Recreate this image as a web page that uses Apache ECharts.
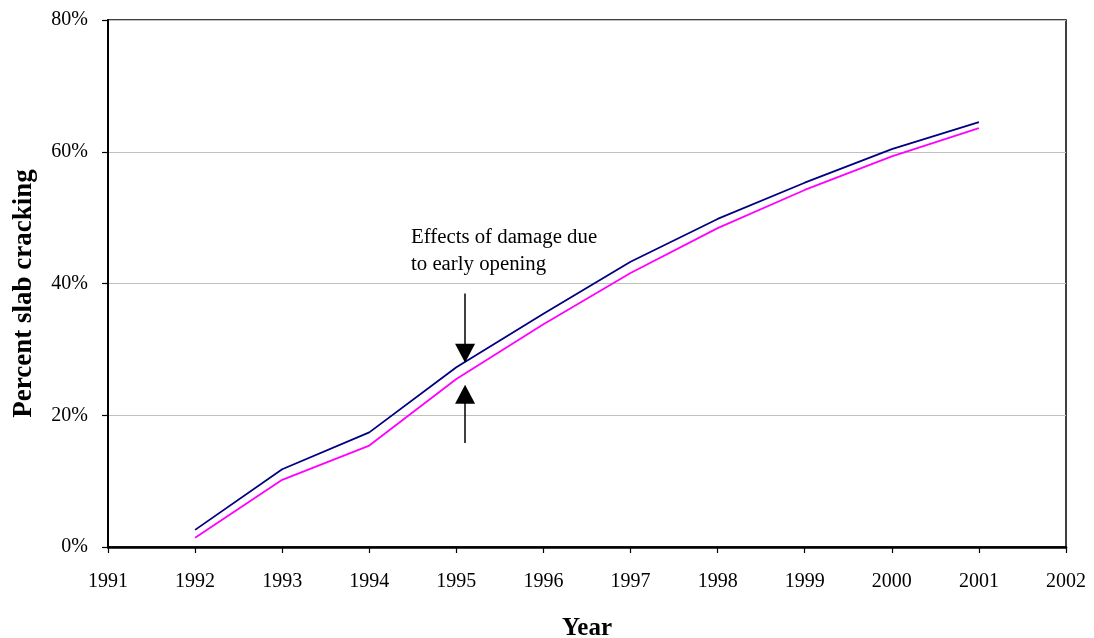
<!DOCTYPE html>
<html>
<head>
<meta charset="utf-8">
<script src="https://cdn.jsdelivr.net/npm/echarts@6/dist/echarts.min.js"></script>
<style>html,body{margin:0;padding:0;background:#fff}#c{width:1094px;height:638px}</style>
</head>
<body>
<div id="c"></div>
<script>
var years = [1992, 1993, 1994, 1995, 1996, 1997, 1998, 1999, 2000, 2001];
var seriesA = [2.6, 11.8, 17.4, 27.3, 35.4, 43.3, 49.8, 55.3, 60.4, 64.5];
var seriesB = [1.4, 10.2, 15.4, 25.5, 33.8, 41.6, 48.4, 54.2, 59.3, 63.6];
var yTicks = [0, 20, 40, 60, 80];
var annotationText = 'Effects of damage due\nto early opening';
var arrowX = 1995.1;
var arrowDown = [38.5, 29.4];
var arrowUp = [15.8, 23.2];

var font = '"Liberation Serif", "Times New Roman", serif';
function pairs(xs, ys) { return xs.map(function (x, i) { return [x, ys[i]]; }); }

var chart = echarts.init(document.getElementById('c'), null, { renderer: 'canvas' });
chart.setOption({
  animation: false,
  backgroundColor: '#fff',
  textStyle: { fontFamily: font },
  grid: { left: 108, right: 28, top: 20, bottom: 91, containLabel: false, outerBoundsMode: 'none',
          show: true, borderColor: '#000', borderWidth: 1.5, backgroundColor: 'transparent' },
  xAxis: {
    type: 'value', min: 1991, max: 2002, interval: 1,
    name: 'Year', nameLocation: 'middle', nameGap: 69,
    nameTextStyle: { fontFamily: font, fontSize: 25, fontWeight: 'bold', color: '#000' },
    axisLine: { lineStyle: { color: '#000', width: 2.5 } },
    axisTick: { show: true, inside: false, length: 6, lineStyle: { color: '#000', width: 1.2 } },
    axisLabel: { fontFamily: font, fontSize: 20, color: '#000', margin: 25, formatter: function (v) { return String(v); } },
    splitLine: { show: false }
  },
  yAxis: {
    type: 'value', min: 0, max: 80, interval: 20,
    name: 'Percent slab cracking', nameLocation: 'middle', nameGap: 70, nameRotate: 90,
    nameTextStyle: { fontFamily: font, fontSize: 27, fontWeight: 'bold', color: '#000', padding: [0, 20, 0, 0] },
    axisLine: { show: true, lineStyle: { color: '#000', width: 2 } },
    axisTick: { show: true, inside: false, length: 6, lineStyle: { color: '#000', width: 1.2 } },
    axisLabel: { fontFamily: font, fontSize: 20, color: '#000', margin: 20, formatter: function (v) { return yTicks.indexOf(v) >= 0 ? v + '%' : ''; } },
    splitLine: { show: true, lineStyle: { color: '#c0c0c0', width: 1 } }
  },
  graphic: [{
    type: 'text', left: 411, top: 224,
    style: { text: annotationText, font: '20.8px ' + font, fill: '#000', lineHeight: 27 }
  }],
  series: [
    {
      name: 'Series A', type: 'line', data: pairs(years, seriesA),
      showSymbol: false, symbol: 'none',
      lineStyle: { color: '#000080', width: 1.8 }, itemStyle: { color: '#000080' },
      markLine: {
        silent: true, symbol: ['none', 'triangle'], symbolSize: [20, 19],
        label: { show: false },
        lineStyle: { color: '#000', width: 1.5, type: 'solid' },
        itemStyle: { color: '#000' },
        data: [
          [{ coord: [arrowX, arrowDown[0]] }, { coord: [arrowX, arrowDown[1]] }],
          [{ coord: [arrowX, arrowUp[0]] }, { coord: [arrowX, arrowUp[1]] }]
        ]
      }
    },
    {
      name: 'Series B', type: 'line', data: pairs(years, seriesB),
      showSymbol: false, symbol: 'none',
      lineStyle: { color: '#ff00ff', width: 1.8 }, itemStyle: { color: '#ff00ff' }
    }
  ]
});
</script>
</body>
</html>
